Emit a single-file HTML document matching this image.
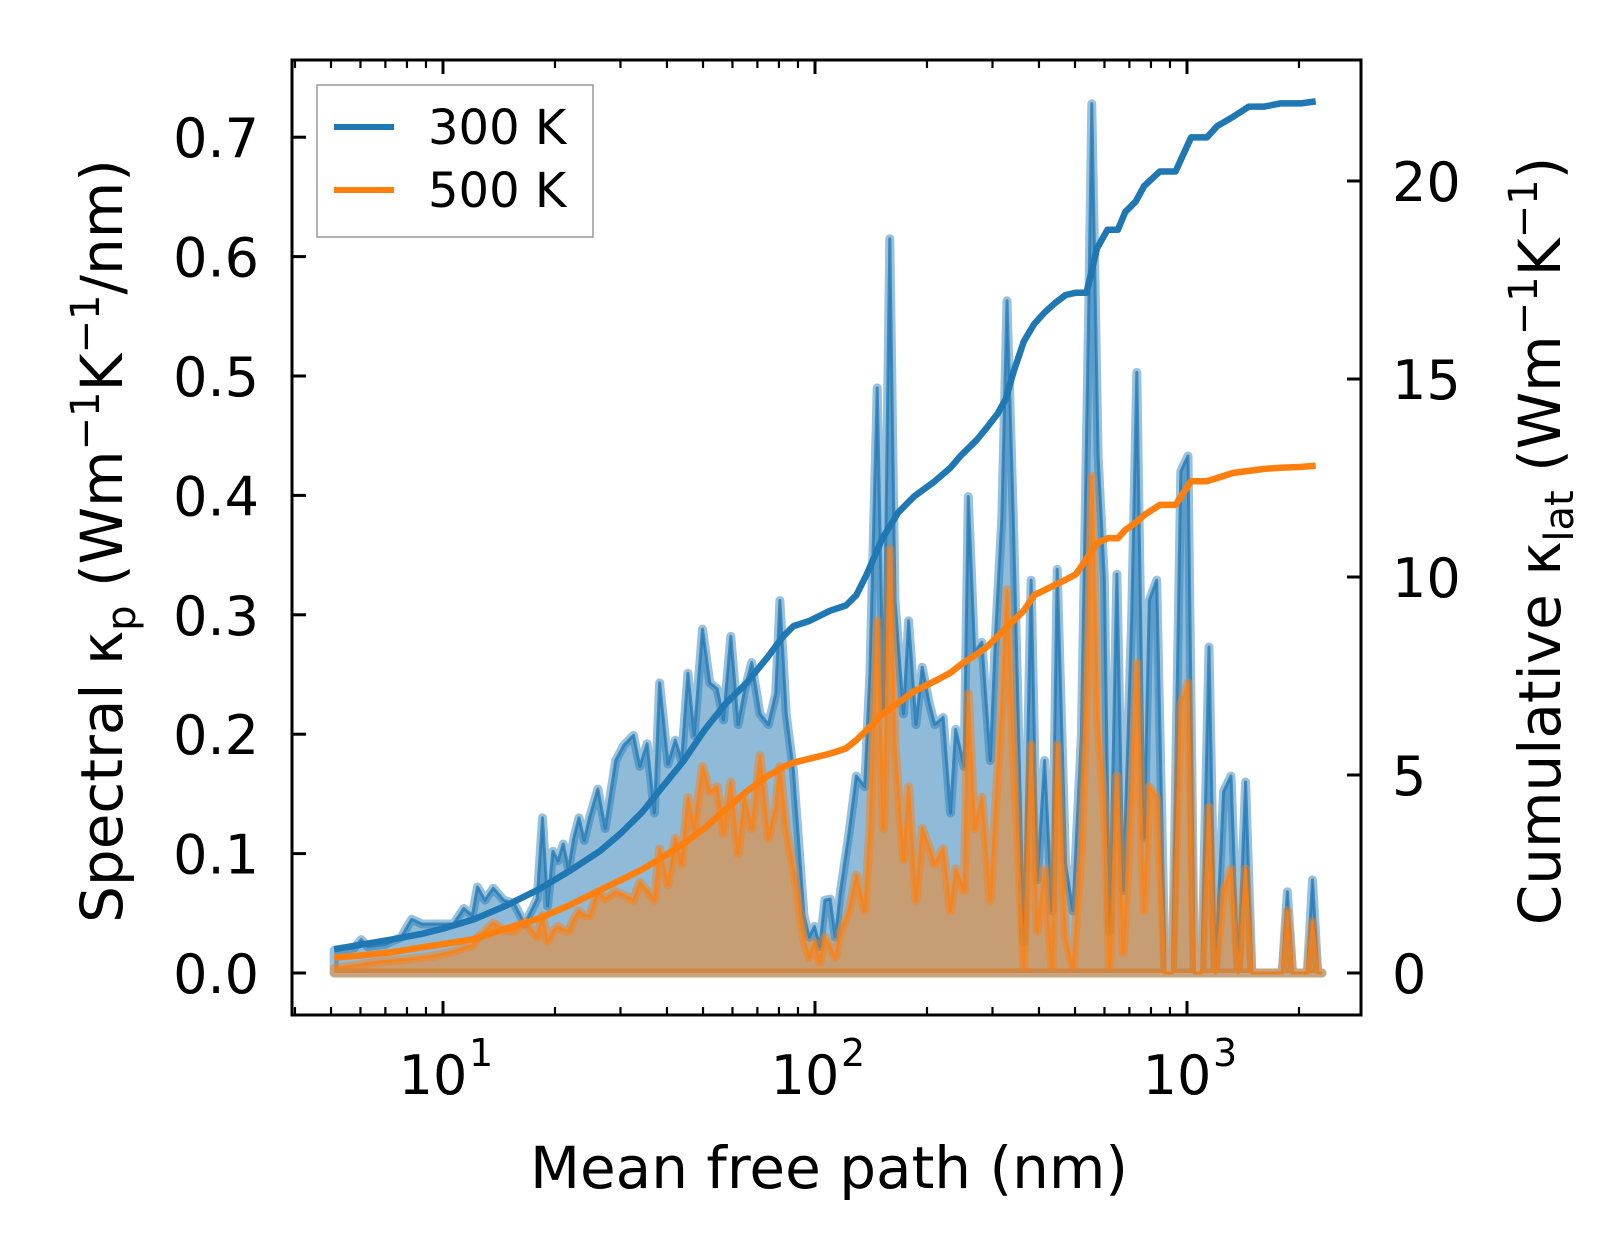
<!DOCTYPE html>
<html><head><meta charset="utf-8"><style>
html,body{margin:0;padding:0;background:#fff;}
svg{display:block;font-family:"DejaVu Sans","Liberation Sans",sans-serif;}
</style></head><body>
<svg id="chart" width="1623" height="1254" viewBox="0 0 1623 1254" xmlns="http://www.w3.org/2000/svg">
<g id="series"></g>
<g id="axes"></g>
<text x="829" y="1188" font-size="58" text-anchor="middle">Mean free path (nm)</text>
<text transform="translate(122,541) rotate(-90)" font-size="58" text-anchor="middle">Spectral κ<tspan font-size="40" dy="13">p</tspan><tspan dy="-13"> (Wm</tspan><tspan font-size="40" dy="-23">−1</tspan><tspan dy="23">K</tspan><tspan font-size="40" dy="-23">−1</tspan><tspan dy="23">/nm)</tspan></text>
<text transform="translate(1560,541) rotate(-90)" font-size="58" text-anchor="middle">Cumulative κ<tspan font-size="40" dy="13">lat</tspan><tspan dy="-13"> (Wm</tspan><tspan font-size="40" dy="-23">−1</tspan><tspan dy="23">K</tspan><tspan font-size="40" dy="-23">−1</tspan><tspan dy="23">)</tspan></text>
<g>
<rect x="317" y="85" width="276" height="152" fill="#fff" stroke="#999" stroke-width="1.5"/>
<g>
<line x1="334" y1="127" x2="394" y2="127" stroke="#1f77b4" stroke-width="6"/>
<text x="428" y="144" font-size="48">300 K</text></g>
<g>
<line x1="334" y1="190" x2="394" y2="190" stroke="#ff7f0e" stroke-width="6"/>
<text x="428" y="207" font-size="48">500 K</text></g>
</g>
</svg>
<script>
const mfp = [5.10,5.77,6.03,6.27,7.00,7.72,8.24,8.78,9.37,10.0,10.67,11.38,11.99,12.38,12.96,13.65,14.56,15.54,16.58,17.92,18.51,19.11,19.74,20.39,21.06,21.75,22.47,23.21,23.97,24.76,26.08,27.29,29.12,30.67,32.51,33.80,35.37,37.01,38.22,40.26,42.13,43.79,45.52,47.33,49.84,52.15,54.58,56.75,59.37,62.12,64.58,67.57,71.16,74.94,78.41,80.48,83.67,87.55,93.41,96.5,99.7,103.0,106.3,109.8,113.4,117.2,123.4,129.1,136.0,140.5,147.0,152.8,158.9,164.1,172.9,178.5,186.8,194.2,203.2,209.9,221.1,231.4,238.9,251.6,258.3,268.5,281.0,295.9,305.7,317.8,328.2,341.2,364.1,380.9,396.0,414.3,433.6,447.9,471.7,493.6,520.0,544.1,554.7,576.7,599.6,619.4,648.1,673.8,709.6,732.8,766.8,792.1,828.8,873.0,913.4,962.4,1006,1046,1095,1146,1191,1254,1313,1373,1437,1494,1615,1803,1862,1923,2106,2175,2247,2306];
const spec300 = [0.019,0.021,0.028,0.022,0.024,0.030,0.045,0.041,0.041,0.041,0.041,0.054,0.048,0.072,0.061,0.071,0.061,0.058,0.041,0.062,0.130,0.056,0.102,0.094,0.108,0.087,0.113,0.130,0.111,0.130,0.154,0.121,0.178,0.191,0.199,0.173,0.192,0.134,0.243,0.175,0.195,0.178,0.251,0.199,0.288,0.243,0.238,0.212,0.282,0.208,0.236,0.260,0.217,0.208,0.234,0.312,0.217,0.169,0.048,0.030,0.039,0.022,0.061,0.062,0.030,0.069,0.117,0.165,0.156,0.251,0.490,0.221,0.615,0.312,0.217,0.295,0.208,0.256,0.225,0.208,0.214,0.134,0.204,0.173,0.399,0.269,0.277,0.178,0.282,0.381,0.563,0.381,0.026,0.329,0.078,0.178,0.052,0.338,0.091,0.052,0.199,0.555,0.728,0.433,0.329,0.035,0.334,0.069,0.295,0.503,0.113,0.312,0.329,0,0,0.420,0.433,0,0,0.273,0,0.152,0.165,0,0.160,0,0,0,0.068,0,0,0.078,0,0];
const spec500 = [0.004,0.006,0.007,0.008,0.010,0.011,0.012,0.013,0.014,0.016,0.018,0.021,0.023,0.030,0.035,0.042,0.036,0.035,0.043,0.030,0.048,0.026,0.035,0.039,0.036,0.035,0.045,0.052,0.048,0.048,0.068,0.062,0.068,0.065,0.061,0.076,0.069,0.061,0.104,0.074,0.113,0.091,0.147,0.121,0.173,0.152,0.156,0.117,0.160,0.100,0.147,0.121,0.182,0.113,0.139,0.173,0.121,0.087,0.028,0.013,0.026,0.009,0.030,0.022,0.013,0.035,0.052,0.082,0.052,0.121,0.295,0.121,0.355,0.191,0.095,0.156,0.061,0.121,0.104,0.091,0.104,0.052,0.087,0.069,0.234,0.121,0.147,0.061,0.139,0.225,0.321,0.191,0.004,0.191,0.035,0.087,0.004,0.191,0.030,0.004,0.104,0.295,0.416,0.208,0.139,0.004,0.165,0.017,0.147,0.260,0.052,0.156,0.147,0,0,0.225,0.243,0,0,0.139,0,0.069,0.087,0,0.087,0,0,0,0.052,0,0,0.043,0,0];
const cumMfp = [5.10,5.96,7.23,8.78,10.0,12.15,14.75,17.92,21.75,26.42,30.08,34.23,38.97,44.36,50.49,57.49,65.43,74.47,82.09,87.55,96.5,109.8,121.1,129.1,137.8,151.9,167.4,184.4,209.9,231.4,246.9,272.0,290.2,309.6,326.1,341.2,364.1,388.4,414.3,442.1,471.7,503.1,536.9,572.9,611.3,652.2,682.6,728.1,766.8,845.1,931.1,1026,1131,1206,1330,1466,1615,1780,2026,2218];
const cum300 = [0.60,0.71,0.84,0.99,1.12,1.36,1.70,2.09,2.56,3.08,3.53,4.05,4.71,5.36,6.14,6.80,7.32,7.97,8.50,8.76,8.89,9.15,9.28,9.54,10.07,10.98,11.63,12.03,12.42,12.76,13.07,13.46,13.78,14.12,14.51,15.16,15.95,16.39,16.68,16.92,17.12,17.18,17.18,18.30,18.77,18.77,19.22,19.48,19.87,20.24,20.24,21.10,21.10,21.39,21.62,21.88,21.88,21.96,21.96,22.01];
const cum500 = [0.39,0.44,0.52,0.65,0.73,0.86,1.12,1.36,1.70,2.09,2.35,2.61,2.93,3.27,3.66,4.13,4.58,4.97,5.20,5.31,5.41,5.54,5.67,5.88,6.14,6.54,6.82,7.11,7.37,7.58,7.79,8.05,8.24,8.50,8.71,8.89,9.15,9.54,9.67,9.80,9.93,10.07,10.46,10.85,10.98,10.98,11.19,11.37,11.56,11.82,11.82,12.42,12.42,12.50,12.63,12.68,12.73,12.76,12.78,12.81];
const leftTicks = [0,0.1,0.2,0.3,0.4,0.5,0.6,0.7];
const leftTickLabels = ["0.0","0.1","0.2","0.3","0.4","0.5","0.6","0.7"];
const rightTicks = [0,5,10,15,20];
const xDecades = [1,2,3];

const NS='http://www.w3.org/2000/svg';
const PL=292, PR=1361, PT=60, PB=1015;
const xs = v => 443 + (Math.log10(v)-1)*372;
const yl = v => 973 - v*1194;
const yr = v => 973 - v*39.6;
function mk(tag, attrs, parent){const e=document.createElementNS(NS,tag);for(const k in attrs)e.setAttribute(k,attrs[k]);parent.appendChild(e);return e;}
const S=document.getElementById('series'), A=document.getElementById('axes');

function spectral(vals, color, name){
  const pts = mfp.map((m,i)=>xs(m).toFixed(1)+','+yl(vals[i]).toFixed(1));
  const closed = 'M'+pts.join(' L')+' L'+xs(mfp[mfp.length-1]).toFixed(1)+','+yl(0)+' L'+xs(mfp[0]).toFixed(1)+','+yl(0)+' Z';
  const f = mk('path',{d:closed,fill:color,'fill-opacity':0.5,stroke:color,'stroke-opacity':0.45,'stroke-width':9,'stroke-linejoin':'round'},S);
  
  
  const l = mk('path',{d:'M'+pts.join(' L'),fill:'none',stroke:color,'stroke-opacity':0.75,'stroke-width':3,'stroke-linejoin':'round'},S);
  
  
}
spectral(spec300,'#1f77b4','spectral-300k');
spectral(spec500,'#ff7f0e','spectral-500k');
function cum(vals,color,name){
  const d='M'+cumMfp.map((m,i)=>xs(m).toFixed(1)+','+yr(vals[i]).toFixed(1)).join(' L');
  const l = mk('path',{d:d,fill:'none',stroke:color,'stroke-width':6.5,'stroke-linejoin':'round'},S);
  
  
}
cum(cum300,'#1f77b4','cumulative-300k');
cum(cum500,'#ff7f0e','cumulative-500k');

const fr = mk('rect',{x:PL,y:PT,width:PR-PL,height:PB-PT,fill:'none',stroke:'#000','stroke-width':3},A);


leftTicks.forEach((v,i)=>{
  const y=yl(v);
  const t = mk('line',{x1:PL,y1:y,x2:PL+14,y2:y,stroke:'#000','stroke-width':3},A);
  
  
  const tx = mk('text',{x:PL-33,y:y+20,'font-size':54,'text-anchor':'end'},A);
  tx.textContent = leftTickLabels[i];
  
  
});
rightTicks.forEach(v=>{
  const y=yr(v);
  const t = mk('line',{x1:PR-14,y1:y,x2:PR,y2:y,stroke:'#000','stroke-width':3},A);
  
  
  const tx = mk('text',{x:PR+31,y:y+20,'font-size':54},A);
  tx.textContent = String(v);
  
  
});
for(let d=0; d<=3; d++){
  for(let k=1;k<10;k++){
    const v=k*Math.pow(10,d); const x=xs(v);
    if(x<PL+2||x>PR-2) continue;
    const len = k===1?14:8;
    [[PB,PB-len],[PT,PT+len]].forEach(p=>{
      const t = mk('line',{x1:x,y1:p[0],x2:x,y2:p[1],stroke:'#000','stroke-width':k===1?3:2.2},A);
      
      
    });
  }
}
xDecades.forEach(e=>{
  const x=xs(Math.pow(10,e));
  const tx = mk('text',{x:x-10,y:1094,'font-size':54,'text-anchor':'middle'},A);
  tx.textContent='10';
  
  
  const sp = mk('text',{x:x+26,y:1066,'font-size':38},A);
  sp.textContent=String(e);
  
  
});
</script>
</body></html>
